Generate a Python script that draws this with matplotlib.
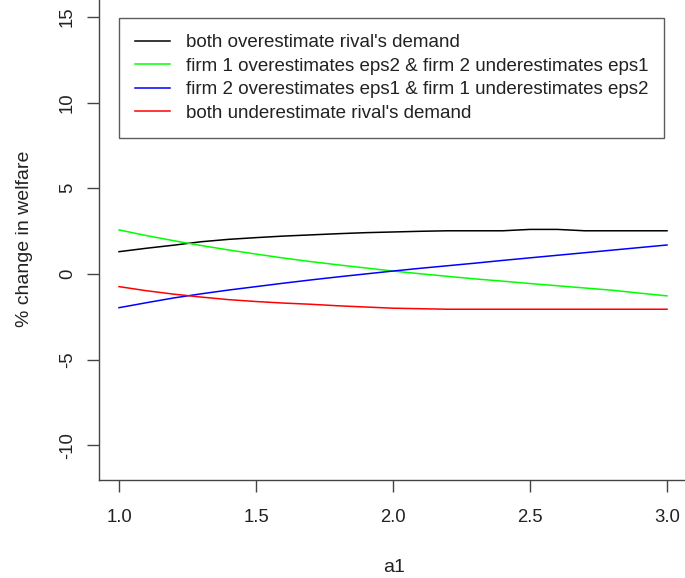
import matplotlib
matplotlib.use("Agg")
import matplotlib.pyplot as plt

plt.rcParams['font.family'] = ['Liberation Sans', 'DejaVu Sans']

a1 = [1.0, 1.1, 1.2, 1.3, 1.4, 1.5, 1.6, 1.7, 1.8, 1.9, 2.0,
      2.1, 2.2, 2.3, 2.4, 2.5, 2.6, 2.7, 2.8, 2.9, 3.0]
both_over = [1.30, 1.50, 1.68, 1.88, 2.02, 2.12, 2.21, 2.28, 2.35, 2.41, 2.45,
             2.49, 2.52, 2.52, 2.52, 2.60, 2.60, 2.52, 2.52, 2.52, 2.52]
f1_over = [2.57, 2.24, 1.94, 1.66, 1.40, 1.16, 0.93, 0.72, 0.53, 0.35, 0.17,
           0.01, -0.14, -0.29, -0.42, -0.56, -0.69, -0.82, -0.95, -1.12, -1.28]
f2_over = [-1.97, -1.68, -1.40, -1.16, -0.94, -0.74, -0.54, -0.35, -0.17, 0.00, 0.17,
           0.33, 0.48, 0.63, 0.79, 0.94, 1.09, 1.24, 1.39, 1.54, 1.69]
both_under = [-0.74, -0.98, -1.18, -1.35, -1.50, -1.61, -1.70, -1.77, -1.86, -1.93, -2.00,
              -2.03, -2.06, -2.06, -2.06, -2.06, -2.06, -2.06, -2.06, -2.06, -2.06]

labels = ["both overestimate rival's demand",
          "firm 1 overestimates eps2 & firm 2 underestimates eps1",
          "firm 2 overestimates eps1 & firm 1 underestimates eps2",
          "both underestimate rival's demand"]
colors = ["black", "#00ff00", "#0000ff", "#ff0000"]
xticks = [1.0, 1.5, 2.0, 2.5, 3.0]
yticks = [-10, -5, 0, 5, 10, 15]

W, H = 685, 578
fig = plt.figure(figsize=(W / 100, H / 100), dpi=100)
left_px, width_px = 99.3, 589.6
bottom_px, height_px = 479.5, 481.0
ax = fig.add_axes([left_px / W, (H - bottom_px) / H, width_px / W, height_px / H])

for ys, c, lab in zip([both_over, f1_over, f2_over, both_under], colors, labels):
    ax.plot(a1, ys, color=c, lw=1.1, label=lab)

ax.set_xlim(0.928, 3.08)
ax.set_ylim(-12.0, 16.08)
ax.set_xticks(xticks)
ax.set_xticklabels([f"{v:.1f}" for v in xticks])
ax.set_yticks(yticks)
ax.set_yticklabels([str(v) for v in yticks], rotation=90, va='center')
ax.tick_params(axis='both', labelsize=13.3, length=8.3, width=1, color='#444444', labelcolor='#222222')
ax.tick_params(axis='x', pad=13)
ax.tick_params(axis='y', pad=8.5)
for s in ax.spines.values():
    s.set_color('#444444')
    s.set_linewidth(1)

ax.set_xlabel("a1", fontsize=14, color='#222222', labelpad=24)
ax.set_ylabel("% change in welfare", fontsize=14, color='#222222', labelpad=19)

leg = ax.legend(loc='upper left', bbox_to_anchor=(119.3 / W, 1 - 18.3 / H), bbox_transform=fig.transFigure,
                fontsize=13.5, frameon=True, fancybox=False, edgecolor='#333333',
                handlelength=1.86, handletextpad=0.85, labelspacing=0.34, borderpad=0.85,
                borderaxespad=0)
leg.get_frame().set_linewidth(1)
for t in leg.get_texts():
    t.set_color('#222222')

fig.savefig("out.png", dpi=100)
